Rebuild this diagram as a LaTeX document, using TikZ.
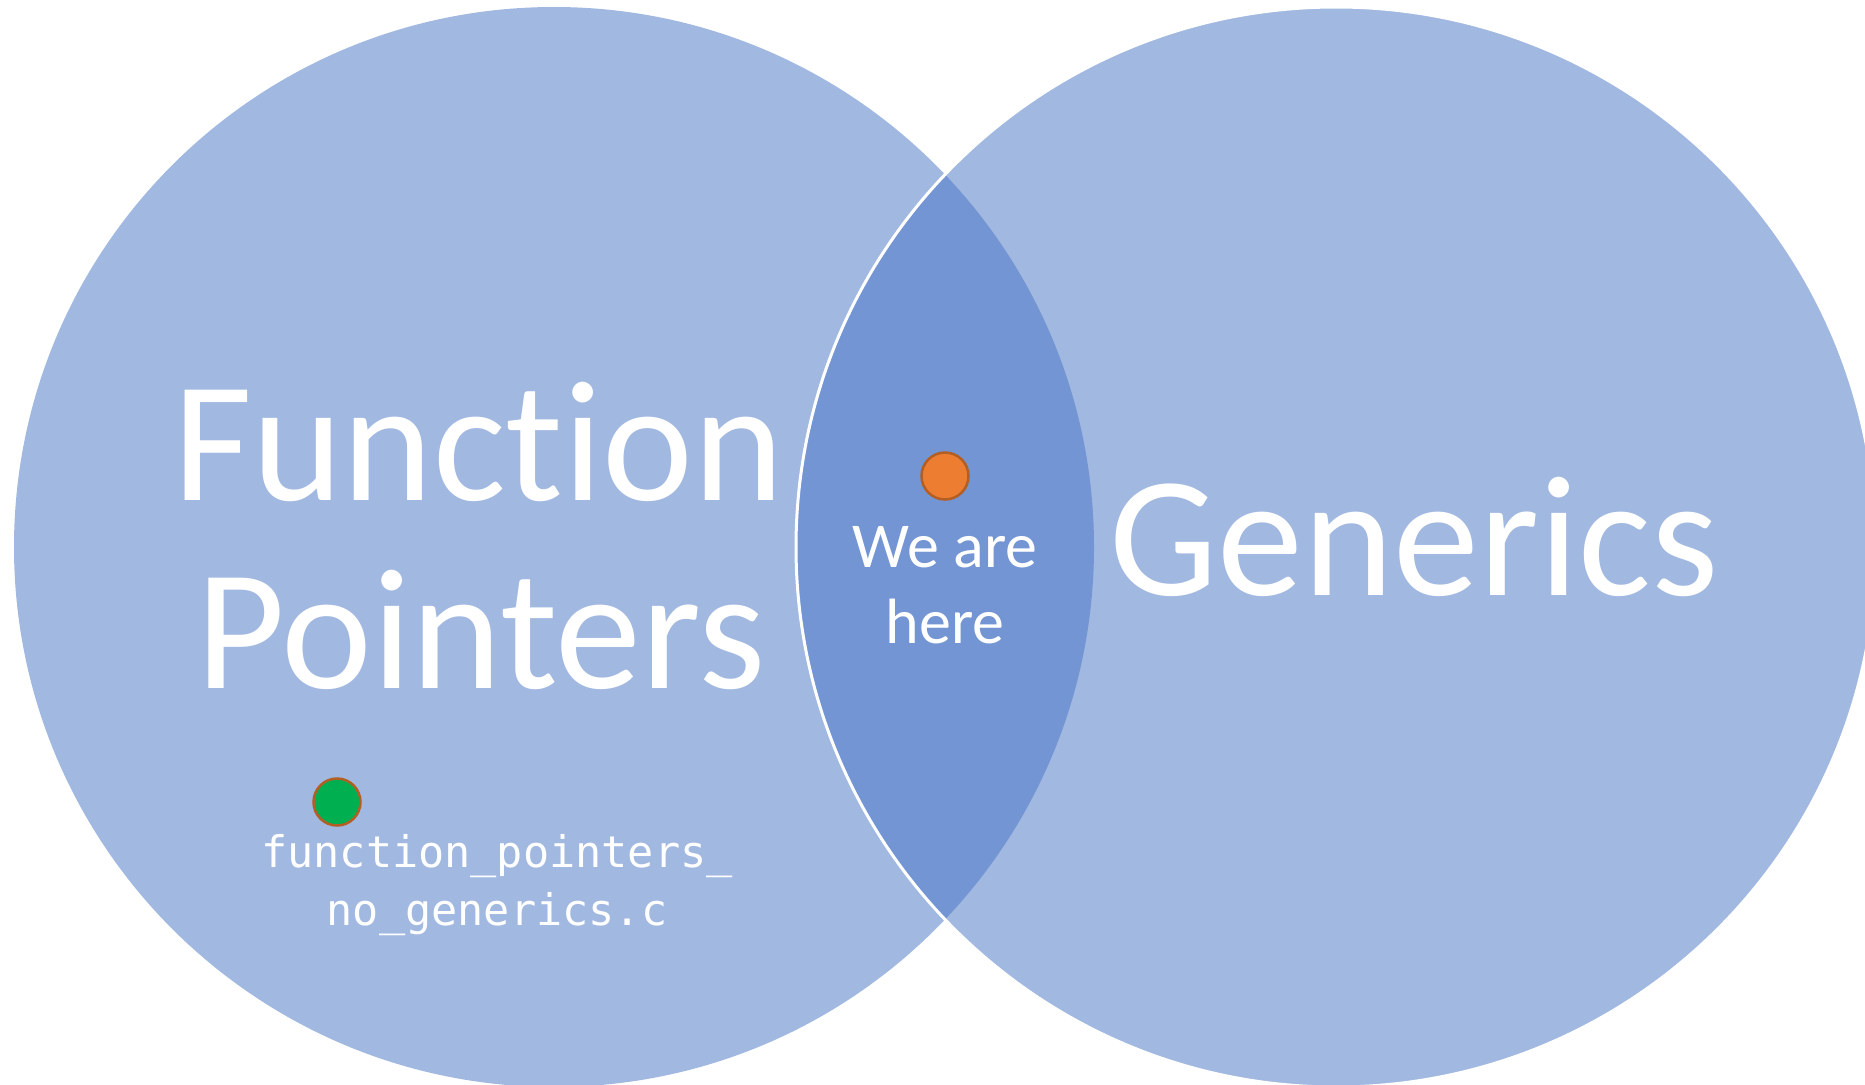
\documentclass[tikz,border=0pt]{standalone}
\usepackage{fontspec}
\setmainfont{Carlito}[Ligatures={NoCommon,NoRare,NoContextual}]
\setmonofont{DejaVu Sans Mono}
\definecolor{setfill}{HTML}{A1B8E1}
\definecolor{lensfill}{HTML}{7395D3}
\definecolor{dotorange}{HTML}{ED7D31}
\definecolor{dotgreen}{HTML}{00B050}
\definecolor{dotrim}{HTML}{B35E22}
\begin{document}
\begin{tikzpicture}[x=1pt,y=-1pt,
  label big/.style={anchor=base,inner sep=0pt,text=white,font=\fontsize{172}{190}\selectfont},
  label mid/.style={anchor=base,inner sep=0pt,text=white,font=\fontsize{64}{76}\selectfont},
  label code/.style={anchor=base,inner sep=0pt,text=white,font=\ttfamily\fontsize{43.5}{58}\selectfont},
  marker/.style={circle,draw=dotrim,line width=2.5pt,minimum size=47pt,inner sep=0pt}]
\path[use as bounding box] (0,0) rectangle (1865,1084);
% the two sets
\coordinate (fp) at (554,547);
\coordinate (gen) at (1336,547);
\fill[setfill] (fp) circle (540pt);
\fill[setfill] (gen) circle (540pt);
\begin{scope}
\clip (fp) circle (540pt);
\fill[lensfill] (gen) circle (540pt);
\end{scope}
\draw[white,line width=3pt] (gen) circle (540pt);
% set names
\node[label big] (fpname1) at (479,500) {Function};
\node[label big] (fpname2) at (481,688) {Pointers};
\node[label big] (genname) at (1414,595) {Generics};
% where we are
\node[marker,fill=dotorange] (here) at (945,476) {};
\node[label mid] (heretext1) at (945,567) {We are};
\node[label mid] (heretext2) at (945,643) {here};
% the plain file
\node[marker,fill=dotgreen] (file) at (337,802) {};
\node[label code] (filetext1) at (497,867) {function\_pointers\_};
\node[label code] (filetext2) at (497,925) {no\_generics.c};
\end{tikzpicture}
\end{document}
